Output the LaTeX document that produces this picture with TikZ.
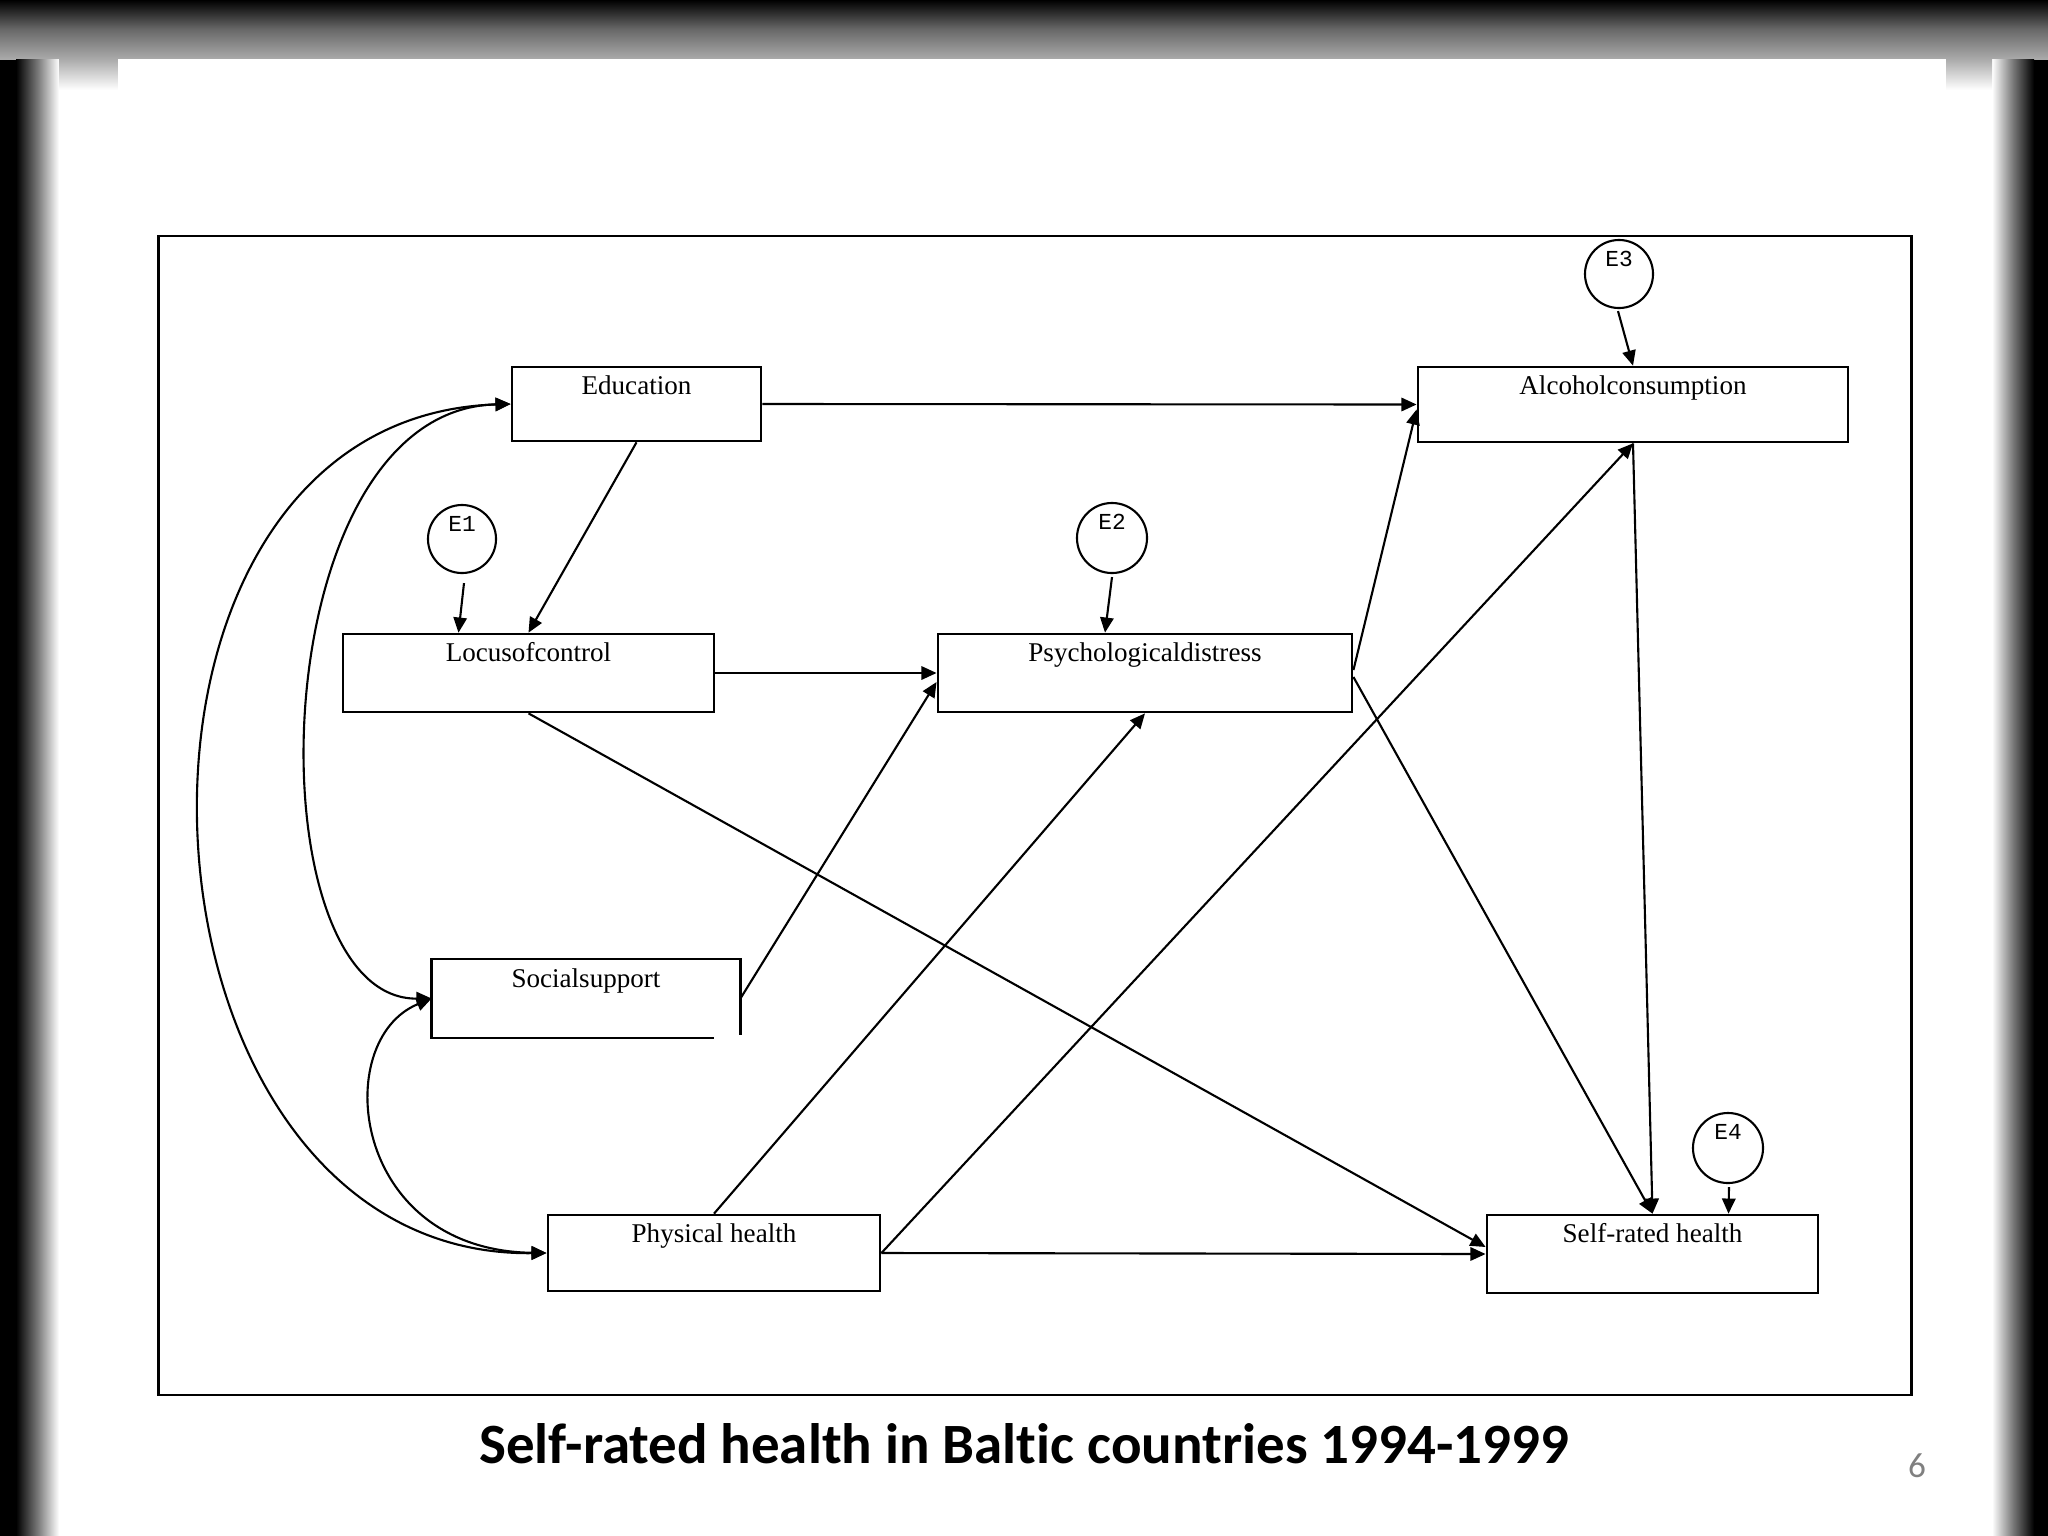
\documentclass[tikz,border=0pt]{standalone}
\usepackage{fontspec}
\setmainfont{Liberation Serif}
\newfontfamily\titlefont[Ligatures=NoCommon]{Carlito}
\newfontfamily\emono{Liberation Mono}
\usetikzlibrary{arrows.meta,calc}
\definecolor{bandgray}{RGB}{170,170,170}
\definecolor{bandmid}{RGB}{105,105,105}
\definecolor{sidemid}{RGB}{120,120,120}
\tikzset{
  box/.style={draw, line width=0.75pt, inner sep=0pt, fill=white},
  boxtext/.style={label={[anchor=base, yshift=-0.29cm, inner sep=0pt, font=\fontsize{7.7}{9}\selectfont]north:#1}},
  circ/.style={draw, circle, line width=0.6pt, inner sep=0pt, fill=white},
  etext/.style={label={[anchor=base, yshift=-0.28cm, inner sep=0pt, font=\emono\fontsize{6.5}{8}\selectfont]north:#1}},
  arr/.style={-{Triangle[length=4.3pt,width=3.8pt]}, line width=0.6pt},
  darr/.style={{Triangle[length=4.3pt,width=3.8pt]}-{Triangle[length=4.3pt,width=3.8pt]}, line width=0.6pt},
}
\begin{document}
\begin{tikzpicture}[x=0.01cm,y=-0.01cm]
\useasboundingbox (0,0) rectangle (2048,1536);
% slide background
\fill[black] (0,0) rectangle (2048,1536);
\shade[top color=black, bottom color=bandgray, middle color=bandmid] (0,0) rectangle (2048,59);
\shade[left color=black, right color=white, middle color=sidemid] (16,59) rectangle (59,1536);
\shade[left color=white, right color=black, middle color=sidemid] (1992,59) rectangle (2034,1536);
\shade[top color=bandgray, bottom color=white] (59,59) rectangle (118,90);
\shade[top color=bandgray, bottom color=white] (1946,59) rectangle (1992,90);
\fill[white] (118,59) rectangle (1946,91);
\fill[white] (59,90) rectangle (1992,1536);
% diagram frame
\node[draw, line width=0.65pt, inner sep=0pt, minimum width=17.52cm, minimum height=11.59cm] (frame) at (1035,815.5) {};
% boxes
\node[box, minimum width=2.49cm, minimum height=0.74cm, boxtext=Education] (edu) at (636.5,404) {};
\node[box, minimum width=4.30cm, minimum height=0.75cm, boxtext=Alcoholconsumption] (alc) at (1633,404.5) {};
\node[box, minimum width=3.71cm, minimum height=0.78cm, boxtext=Locusofcontrol] (loc) at (528.5,673) {};
\node[box, minimum width=4.14cm, minimum height=0.78cm, boxtext=Psychologicaldistress] (psy) at (1145,673) {};
\node[box, draw=none, minimum width=3.06cm, minimum height=0.77cm, boxtext=Socialsupport] (soc) at (586,998.5) {};
\draw[line width=0.65pt] ($(soc.south west)+(282,0)$) -- (soc.south west) -- (soc.north west) -- (soc.north east) -- ($(soc.south east)+(0,-3)$);
\node[box, minimum width=3.32cm, minimum height=0.76cm, boxtext=Physical health] (phy) at (714,1253) {};
\node[box, minimum width=3.31cm, minimum height=0.78cm, boxtext=Self-rated health] (srh) at (1652.5,1254) {};
% error circles
\node[circ, minimum size=0.68cm, etext=E1] (e1) at (462,539) {};
\node[circ, minimum size=0.70cm, etext=E2] (e2) at (1112,538) {};
\node[circ, minimum size=0.68cm, etext=E3] (e3) at (1619,274) {};
\node[circ, minimum size=0.70cm, etext=E4] (e4) at (1728,1148) {};
% error arrows
\draw[arr] ($(e1.south)+(2,9)$) -- ($(loc.north)+(-70,0)$);
\draw[arr] ($(e2.south)+(0,3)$) -- ($(psy.north)+(-40,0)$);
\draw[arr] ($(e3.south)+(-1,2)$) -- (alc.north);
\draw[arr] ($(e4.south)+(1,3)$) -- ($(srh.north)+(76,0)$);
% paths
\draw[arr] (edu.east) -- (alc.west);
\draw[arr] (edu.south) -- (loc.north);
\draw[arr] (loc.east) -- (psy.west);
\draw[arr] (soc.east) -- ($(psy.west)+(0,9)$);
\draw[arr] (phy.north) -- (psy.south);
\draw[arr] (phy.east) -- (alc.south);
\draw[arr] (phy.east) -- (srh.west);
\draw[arr] (loc.south) -- ($(srh.west)+(0,-7)$);
\draw[arr] ($(psy.east)+(0,-3)$) -- ($(alc.west)+(0,5)$);
\draw[arr] ($(psy.east)+(0,4)$) -- (srh.north);
\draw[arr] (alc.south) -- (srh.north);
% correlations
\draw[darr] (edu.west) .. controls (260,410) and (250,1000) .. (soc.west);
\draw[darr] (edu.west) .. controls (72,418) and (112,1258) .. (phy.west);
\draw[darr] (soc.west) .. controls (330,1040) and (350,1250) .. (phy.west);
% title and page number
\node[font=\titlefont\bfseries\fontsize{16.2}{19}\selectfont, anchor=base, inner sep=0pt] (title) at (1024,1463) {Self-rated health in Baltic countries 1994-1999};
\node[font=\titlefont\fontsize{10}{12}\selectfont, text=gray, anchor=base, inner sep=0pt] (pgnum) at (1917,1477) {6};
\end{tikzpicture}
\end{document}
